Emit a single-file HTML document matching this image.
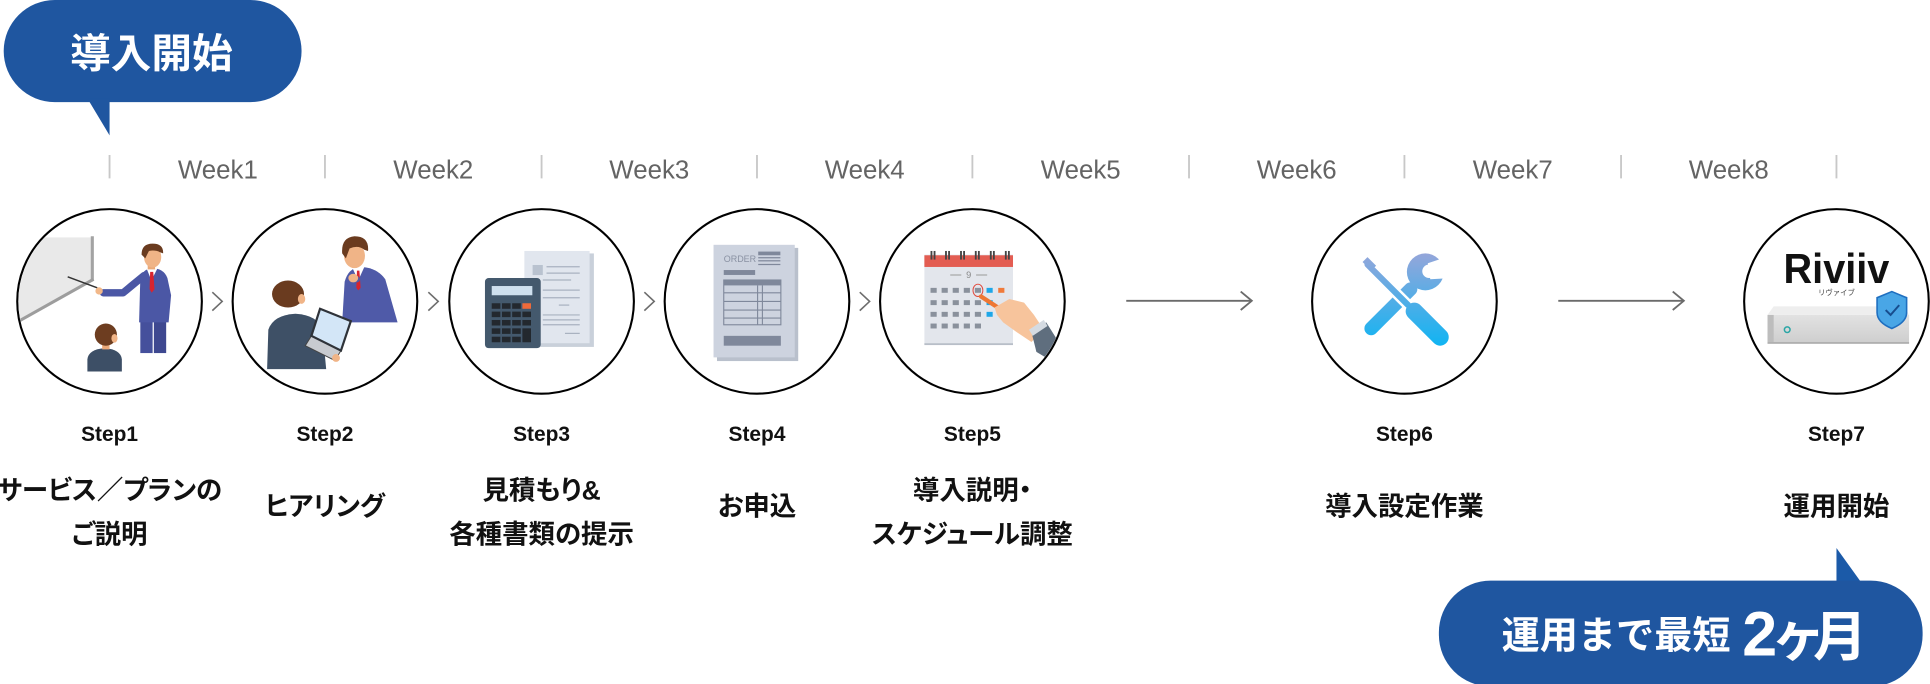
<!DOCTYPE html>
<html><head><meta charset="utf-8">
<style>
html,body{margin:0;padding:0;background:#fff;}
body{width:1930px;height:684px;overflow:hidden;}
svg{display:block;}
.wk{font-family:"Liberation Sans","Noto Sans CJK JP",sans-serif;font-size:21px;fill:#646464;text-anchor:middle;}
.st{font-family:"Liberation Sans","Noto Sans CJK JP",sans-serif;font-size:17px;font-weight:bold;fill:#111;text-anchor:middle;}
.ds{font-family:"Liberation Sans","Noto Sans CJK JP",sans-serif;font-size:21.5px;font-weight:bold;fill:#111;text-anchor:middle;font-feature-settings:"palt";}
.wh{font-family:"Liberation Sans","Noto Sans CJK JP",sans-serif;font-weight:bold;fill:#fff;}
</style></head><body>
<svg width="1930" height="684" viewBox="0 0 1568 556" preserveAspectRatio="none" xmlns="http://www.w3.org/2000/svg">
<defs>
  <clipPath id="c1"><circle cx="89" cy="245" r="74"/></clipPath>
  <clipPath id="c2"><circle cx="264" cy="245" r="74"/></clipPath>
  <clipPath id="c5"><circle cx="790" cy="245" r="74"/></clipPath>
  <linearGradient id="tg" x1="0" y1="206" x2="0" y2="280" gradientUnits="userSpaceOnUse">
    <stop offset="0" stop-color="#95a6da"/><stop offset="1" stop-color="#12b4f2"/>
  </linearGradient>
  <linearGradient id="sv" x1="0" y1="256" x2="0" y2="280" gradientUnits="userSpaceOnUse">
    <stop offset="0" stop-color="#e2e2e2"/><stop offset="1" stop-color="#cdcdcd"/>
  </linearGradient>
</defs>

<!-- top bubble -->
<rect x="3" y="0" width="242" height="83" rx="41.5" fill="#1f56a0"/>
<polygon points="71,80 89,80 89,110" fill="#1f56a0"/>
<text class="wh" x="123" y="55" font-size="33" text-anchor="middle">導入開始</text>

<!-- week ticks -->
<g stroke="#c8c8c8" stroke-width="1.5">
  <line x1="89" y1="126" x2="89" y2="145"/>
  <line x1="264" y1="126" x2="264" y2="145"/>
  <line x1="440" y1="126" x2="440" y2="145"/>
  <line x1="615" y1="126" x2="615" y2="145"/>
  <line x1="790" y1="126" x2="790" y2="145"/>
  <line x1="966" y1="126" x2="966" y2="145"/>
  <line x1="1141" y1="126" x2="1141" y2="145"/>
  <line x1="1317" y1="126" x2="1317" y2="145"/>
  <line x1="1492" y1="126" x2="1492" y2="145"/>
</g>
<text class="wk" x="177" y="145">Week1</text>
<text class="wk" x="352" y="145">Week2</text>
<text class="wk" x="527.5" y="145">Week3</text>
<text class="wk" x="702.5" y="145">Week4</text>
<text class="wk" x="878" y="145">Week5</text>
<text class="wk" x="1053.5" y="145">Week6</text>
<text class="wk" x="1229" y="145">Week7</text>
<text class="wk" x="1404.5" y="145">Week8</text>

<!-- circles -->
<g fill="#fff" stroke="#000" stroke-width="1.7">
  <circle cx="89" cy="245" r="75"/>
  <circle cx="264" cy="245" r="75"/>
  <circle cx="440" cy="245" r="75"/>
  <circle cx="615" cy="245" r="75"/>
  <circle cx="790" cy="245" r="75"/>
  <circle cx="1141" cy="245" r="75"/>
  <circle cx="1492" cy="245" r="75"/>
</g>

<!-- chevrons -->
<g fill="none" stroke="#6d6d6d" stroke-width="1.3">
  <polyline points="172.5,237.5 180.5,245 172.5,252.5"/>
  <polyline points="348,237.5 356,245 348,252.5"/>
  <polyline points="523.5,237.5 531.5,245 523.5,252.5"/>
  <polyline points="698.5,237.5 706.5,245 698.5,252.5"/>
</g>
<!-- long arrows -->
<g fill="none" stroke="#6b6b6b" stroke-width="1.5">
  <line x1="915" y1="244.5" x2="1017" y2="244.5"/>
  <polyline points="1008,237 1017,244.5 1008,252"/>
  <line x1="1266" y1="244.5" x2="1368" y2="244.5"/>
  <polyline points="1359,237 1368,244.5 1359,252"/>
</g>

<!-- Circle 1 illustration -->
<g clip-path="url(#c1)">
  <polygon points="10,193 75,193 75,227 10,264" fill="#e9e9e9"/>
  <line x1="75" y1="192" x2="75" y2="228" stroke="#a3a3a3" stroke-width="2.5"/>
  <line x1="76" y1="227" x2="10" y2="264" stroke="#9d9d9d" stroke-width="2.5"/>
  <line x1="55" y1="225" x2="79" y2="234" stroke="#333" stroke-width="1.2"/>
  <!-- presenter -->
  <rect x="114" y="258" width="10" height="29" fill="#45509c"/>
  <rect x="125" y="258" width="10" height="29" fill="#3e4890"/>
  <path d="M113,262 L114,226 Q116,219 123,218 Q133,218 136,226 L139,240 L137,262 Z" fill="#4b57a5"/>
  <polygon points="119,218 128,218 123,228" fill="#fff"/>
  <polygon points="122,221 124.5,221 125.5,235 123.3,238 121.5,235" fill="#d8242f"/>
  <path d="M117,224 L100,238 L84,238" fill="none" stroke="#4b57a5" stroke-width="6" stroke-linecap="round" stroke-linejoin="round"/>
  <circle cx="80.5" cy="236.5" r="3" fill="#f2b889"/>
  <rect x="120" y="213" width="6" height="6" fill="#eaa878"/>
  <ellipse cx="124" cy="209" rx="7" ry="8.5" fill="#f0b487"/>
  <path d="M115,207 Q115,198 124,198 Q133,198 132.5,206 L130,205 Q126,203 121,204 L118,210 Z" fill="#6a3b1f"/>
  <!-- student -->
  <path d="M71,302 L71,292 Q72,284 85,283 Q98,284 99,292 L99,302 Z" fill="#3d4f66"/>
  <rect x="83" y="279" width="6" height="5" fill="#eaa878"/>
  <ellipse cx="86" cy="272" rx="9" ry="9" fill="#6d3d20"/>
  <ellipse cx="93" cy="275" rx="2.5" ry="3.5" fill="#f0b487"/>
</g>

<!-- Circle 2 illustration -->
<g clip-path="url(#c2)">
  <path d="M278,262 L280,229 Q283,218 292,217 Q306,217 313,227 L323,262 Z" fill="#4f5aa8"/>
  <polygon points="286,217 296,217 291,228" fill="#fff"/>
  <polygon points="290,220 292,220 293,234 291,236 289.5,234" fill="#d8242f"/>
  <path d="M282,246 L284,230 Q286,226 290,227" fill="none" stroke="#4f5aa8" stroke-width="5" stroke-linecap="round"/>
  <ellipse cx="287" cy="226" rx="4" ry="3.5" fill="#f0b487"/>
  <ellipse cx="288" cy="208" rx="8.5" ry="10" fill="#f0b487"/>
  <path d="M278,206 Q277,193 288,192 Q300,192 299,204 L296,203 Q291,199 284,202 L281,210 Z" fill="#6a3b1f"/>
  <!-- sitting -->
  <path d="M217,300 L218,268 Q222,256 240,255 Q258,256 262,268 L265,300 Z" fill="#3e5066"/>
  <ellipse cx="234" cy="239" rx="13" ry="11" fill="#6a3b1f"/>
  <ellipse cx="245" cy="243" rx="3" ry="4" fill="#f0b487"/>
  <!-- laptop -->
  <polygon points="253,273 277,285 272,293 248,281" fill="#c8cbd0" stroke="#444" stroke-width="0.8"/>
  <polygon points="260,251 285,261 277,285 253,273" fill="#d3e6f7" stroke="#2f3339" stroke-width="1.8"/>
  <circle cx="273" cy="291" r="3.2" fill="#f0b487"/>
</g>

<!-- Circle 3 illustration -->
<g>
  <rect x="428.5" y="206" width="54" height="76" fill="#c9d0da"/>
  <rect x="426" y="204" width="53" height="75" fill="#e1e6ee"/>
  <rect x="432.7" y="215.4" width="8.3" height="8.2" fill="#b9c2cf"/>
  <g stroke="#a9b2c0" stroke-width="1">
    <line x1="444" y1="216.8" x2="471" y2="216.8"/>
    <line x1="444" y1="222" x2="471" y2="222"/>
    <line x1="441" y1="227.6" x2="464" y2="227.6"/>
    <line x1="441" y1="235.8" x2="471" y2="235.8"/>
    <line x1="441" y1="242" x2="471" y2="242"/>
    <line x1="454" y1="248" x2="462.5" y2="248"/>
    <line x1="441" y1="256" x2="471" y2="256"/>
    <line x1="441" y1="260" x2="471" y2="260"/>
    <line x1="441" y1="264" x2="471" y2="264"/>
    <line x1="459" y1="271" x2="471" y2="271"/>
  </g>
  <rect x="394" y="226" width="45.3" height="57" rx="3" fill="#44596d"/>
  <rect x="399.5" y="232.5" width="33" height="7.5" fill="#cfe0ee"/>
  <g fill="#23282e">
    <rect x="399.5" y="246.5" width="7" height="4.5"/><rect x="407.8" y="246.5" width="7" height="4.5"/><rect x="416.1" y="246.5" width="7" height="4.5"/>
    <rect x="399.5" y="253.3" width="7" height="4.5"/><rect x="407.8" y="253.3" width="7" height="4.5"/><rect x="416.1" y="253.3" width="7" height="4.5"/><rect x="424.4" y="253.3" width="7" height="4.5"/>
    <rect x="399.5" y="260.1" width="7" height="4.5"/><rect x="407.8" y="260.1" width="7" height="4.5"/><rect x="416.1" y="260.1" width="7" height="4.5"/><rect x="424.4" y="260.1" width="7" height="4.5"/>
    <rect x="399.5" y="266.9" width="7" height="4.5"/><rect x="407.8" y="266.9" width="7" height="4.5"/><rect x="416.1" y="266.9" width="7" height="4.5"/><rect x="424.4" y="266.9" width="7" height="11.3"/>
    <rect x="399.5" y="273.7" width="7" height="4.5"/><rect x="407.8" y="273.7" width="7" height="4.5"/><rect x="416.1" y="273.7" width="7" height="4.5"/>
  </g>
  <rect x="424.4" y="246.5" width="7" height="4.5" fill="#ef6a3a"/>
</g>

<!-- Circle 4 illustration -->
<g>
  <rect x="582.5" y="201.5" width="66" height="92" fill="#b9c0cc"/>
  <rect x="579.7" y="199" width="66" height="91.5" fill="#cdd3df"/>
  <text x="588" y="213" font-family="Liberation Sans, sans-serif" font-size="7.3" fill="#8a92a3">ORDER</text>
  <g fill="#7f889b">
    <rect x="616" y="204.5" width="18" height="3"/>
    <rect x="616" y="209" width="18" height="1"/>
    <rect x="616" y="211.5" width="18" height="1"/>
    <rect x="616" y="214.5" width="18" height="1"/>
    <rect x="588" y="219.5" width="25.5" height="4"/>
    <rect x="588" y="227.6" width="46.4" height="4.4"/>
    <rect x="588" y="273" width="46.4" height="8"/>
  </g>
  <g stroke="#7f889b" stroke-width="0.9" fill="none">
    <rect x="588" y="227.6" width="46.4" height="36.4"/>
    <line x1="588" y1="238" x2="634.4" y2="238"/>
    <line x1="588" y1="245" x2="634.4" y2="245"/>
    <line x1="588" y1="252" x2="634.4" y2="252"/>
    <line x1="588" y1="258.5" x2="634.4" y2="258.5"/>
    <line x1="615.5" y1="232" x2="615.5" y2="264"/>
    <line x1="619.4" y1="232" x2="619.4" y2="264"/>
  </g>
</g>

<!-- Circle 5 illustration -->
<g clip-path="url(#c5)">
  <rect x="751" y="207" width="72" height="73" fill="#e3e6ec"/>
  <rect x="751" y="279" width="72" height="1.5" fill="#b8bec8"/>
  <rect x="751" y="207.5" width="72" height="9.5" fill="#e35d52"/>
  <g fill="#444">
    <rect x="756" y="204" width="1.5" height="7"/><rect x="758.5" y="204" width="1.5" height="7"/>
    <rect x="767.8" y="204" width="1.5" height="7"/><rect x="770.3" y="204" width="1.5" height="7"/>
    <rect x="780" y="204" width="1.5" height="7"/><rect x="782.5" y="204" width="1.5" height="7"/>
    <rect x="792" y="204" width="1.5" height="7"/><rect x="794.5" y="204" width="1.5" height="7"/>
    <rect x="804.2" y="204" width="1.5" height="7"/><rect x="806.7" y="204" width="1.5" height="7"/>
    <rect x="816.4" y="204" width="1.5" height="7"/><rect x="818.9" y="204" width="1.5" height="7"/>
  </g>
  <line x1="772" y1="223.5" x2="781" y2="223.5" stroke="#999" stroke-width="0.8"/>
  <line x1="793" y1="223.5" x2="802" y2="223.5" stroke="#999" stroke-width="0.8"/>
  <text x="787" y="226" font-family="Liberation Sans, sans-serif" font-size="7.5" fill="#888" text-anchor="middle">9</text>
  <g fill="#8a919c">
    <rect x="756" y="234" width="5" height="4"/><rect x="765" y="234" width="5" height="4"/><rect x="774" y="234" width="5" height="4"/><rect x="783" y="234" width="5" height="4"/><rect x="792" y="234" width="5" height="4"/>
    <rect x="756" y="244" width="5" height="4"/><rect x="765" y="244" width="5" height="4"/><rect x="774" y="244" width="5" height="4"/><rect x="783" y="244" width="5" height="4"/><rect x="792" y="244" width="5" height="4"/>
    <rect x="756" y="253.5" width="5" height="4"/><rect x="765" y="253.5" width="5" height="4"/><rect x="774" y="253.5" width="5" height="4"/><rect x="783" y="253.5" width="5" height="4"/><rect x="792" y="253.5" width="5" height="4"/>
    <rect x="756" y="263" width="5" height="4"/><rect x="765" y="263" width="5" height="4"/><rect x="774" y="263" width="5" height="4"/><rect x="783" y="263" width="5" height="4"/><rect x="792" y="263" width="5" height="4"/>
  </g>
  <g fill="#1ea7e8">
    <rect x="801.5" y="234" width="5" height="4"/>
    <rect x="801.5" y="244" width="5" height="4"/>
    <rect x="801.5" y="253.5" width="5" height="4"/>
  </g>
  <rect x="811" y="234" width="5" height="4" fill="#f07a3a"/>
  <ellipse cx="794.5" cy="236" rx="4" ry="5" fill="none" stroke="#e0483c" stroke-width="0.8"/>
  <line x1="797" y1="241" x2="823" y2="258" stroke="#ee7733" stroke-width="3.5" stroke-linecap="round"/>
  <polygon points="808,250 820,243 832,246 840,256 848,268 838,278 826,270 815,262 810,256" fill="#f7c49c"/>
  <polygon points="838,270 850,262 862,281 852,292 842,286" fill="#5f6e7e"/>
  <polygon points="836,268 848,260 851,265 839,273" fill="#d5dbe2"/>
</g>

<!-- Circle 6 tools -->
<g>
  <line x1="1146" y1="235" x2="1114" y2="267" stroke="url(#tg)" stroke-width="11" stroke-linecap="round"/>
  <circle cx="1158" cy="221" r="15" fill="url(#tg)"/>
  <polygon points="1160,214 1178,208 1180,226 1162,227" fill="#fff"/>
  <circle cx="1161" cy="220.5" r="5.5" fill="#fff"/>
  <line x1="1113" y1="217" x2="1144" y2="248" stroke="#fff" stroke-width="9" stroke-linecap="round"/>
  <line x1="1111" y1="215" x2="1144" y2="248" stroke="url(#tg)" stroke-width="5" stroke-linecap="round"/>
  <polygon points="1107,213 1111,209 1118,216 1114,220" fill="url(#tg)"/>
  <line x1="1149" y1="253" x2="1170" y2="274" stroke="url(#tg)" stroke-width="14" stroke-linecap="round"/>
</g>

<!-- Circle 7 Riviiv -->
<g>
  <text x="1492" y="230" font-family="Liberation Sans, sans-serif" font-weight="bold" font-size="34" fill="#111" text-anchor="middle" textLength="86" lengthAdjust="spacingAndGlyphs">Riviiv</text>
  <text x="1492" y="240" font-family="Liberation Sans, 'Noto Sans CJK JP', sans-serif" font-size="6" fill="#444" text-anchor="middle">リヴァイブ</text>
  <polygon points="1441,249 1547,249 1551,256 1436,256" fill="#eeeeee"/>
  <rect x="1436" y="256" width="115" height="23" fill="url(#sv)"/>
  <rect x="1436" y="256" width="5" height="23" fill="#bdbdbd"/>
  <rect x="1436" y="278" width="115" height="1.5" fill="#b0b0b0"/>
  <circle cx="1452" cy="268" r="2.3" fill="none" stroke="#2aa6a6" stroke-width="1.2"/>
  <path d="M1537,237 L1549,242 L1549,254 Q1549,262 1537,267 Q1525,262 1525,254 L1525,242 Z" fill="#49a6e6" stroke="#1f6fc0" stroke-width="1.3"/>
  <polyline points="1532,252 1536,256 1543,248" fill="none" stroke="#174d8e" stroke-width="1.6"/>
</g>

<!-- Step labels -->
<text class="st" x="89" y="358.5">Step1</text>
<text class="st" x="264" y="358.5">Step2</text>
<text class="st" x="440" y="358.5">Step3</text>
<text class="st" x="615" y="358.5">Step4</text>
<text class="st" x="790" y="358.5">Step5</text>
<text class="st" x="1141" y="358.5">Step6</text>
<text class="st" x="1492" y="358.5">Step7</text>

<!-- descriptions -->
<text class="ds" x="89" y="406">サービス／プランの</text>
<text class="ds" x="89" y="442">ご説明</text>
<text class="ds" x="264" y="419">ヒアリング</text>
<text class="ds" x="440" y="406">見積もり&amp;</text>
<text class="ds" x="440" y="442">各種書類の提示</text>
<text class="ds" x="615" y="419">お申込</text>
<text class="ds" x="790" y="406">導入説明・</text>
<text class="ds" x="790" y="442">スケジュール調整</text>
<text class="ds" x="1141" y="419">導入設定作業</text>
<text class="ds" x="1492" y="419">運用開始</text>

<!-- bottom bubble -->
<polygon points="1492,445.5 1492,476 1514,476" fill="#1b5aa8"/>
<rect x="1169" y="472" width="393" height="86" rx="42" fill="#1f56a0"/>
<text class="wh" x="1220" y="527" font-size="31">運用まで最短</text>
<text class="wh" x="1415.5" y="533" font-size="51">2</text>
<text class="wh" x="1439" y="533" font-size="44">ヶ</text>
<text class="wh" x="1473" y="533" font-size="44">月</text>
</svg>
</body></html>
